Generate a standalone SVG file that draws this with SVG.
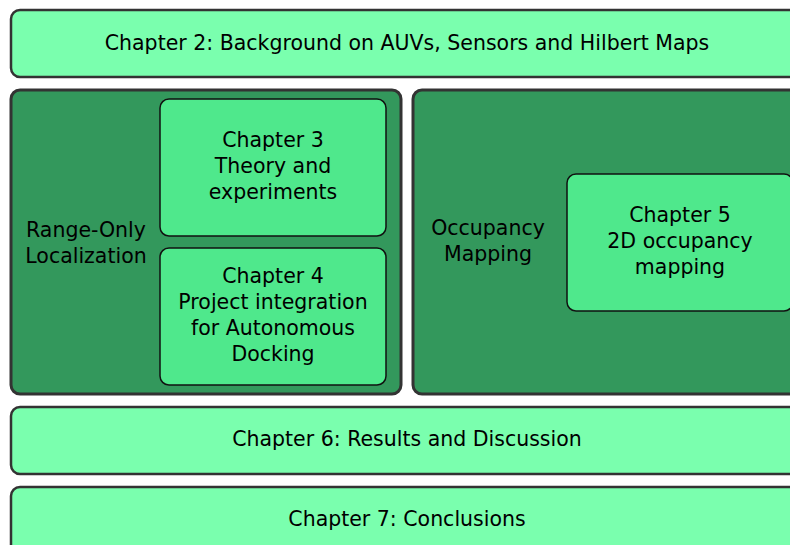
<svg xmlns="http://www.w3.org/2000/svg" width="790" height="545" viewBox="0 0 790 545">
<style>
.band{fill:#7affae;stroke:#333;stroke-width:2.5}
.grp{fill:#33985c;stroke:#333;stroke-width:3}
.ch{fill:#4fe88c;stroke:#111;stroke-width:1.5}
text{font-family:"DejaVu Sans",sans-serif;font-size:20.5px;fill:#000;text-anchor:middle}
</style>
<rect width="790" height="545" fill="#fff"/>
<g id="ch2"><rect class="band" x="11" y="10" width="792" height="67" rx="9"/><text x="407" y="50">Chapter 2: Background on AUVs, Sensors and Hilbert Maps</text></g>
<g id="rol"><rect class="grp" x="11" y="90" width="390" height="304" rx="9"/><text x="86" y="237">Range-Only</text><text x="86" y="263">Localization</text></g>
<g id="occ"><rect class="grp" x="413" y="90" width="390" height="304" rx="9"/><text x="488" y="235">Occupancy</text><text x="488" y="261">Mapping</text></g>
<g id="ch3"><rect class="ch" x="160" y="99" width="226" height="137" rx="9"/><text x="273" y="147">Chapter 3</text><text x="273" y="173">Theory and</text><text x="273" y="199">experiments</text></g>
<g id="ch4"><rect class="ch" x="160" y="248" width="226" height="137" rx="9"/><text x="273" y="283">Chapter 4</text><text x="273" y="309">Project integration</text><text x="273" y="335">for Autonomous</text><text x="273" y="361">Docking</text></g>
<g id="ch5"><rect class="ch" x="567" y="174" width="226" height="137" rx="9"/><text x="680" y="222">Chapter 5</text><text x="680" y="248">2D occupancy</text><text x="680" y="274">mapping</text></g>
<g id="ch6"><rect class="band" x="11" y="407" width="792" height="67" rx="9"/><text x="407" y="446">Chapter 6: Results and Discussion</text></g>
<g id="ch7"><rect class="band" x="11" y="487" width="792" height="67" rx="9"/><text x="407" y="526">Chapter 7: Conclusions</text></g>
<g id="connectors"></g>
</svg>
